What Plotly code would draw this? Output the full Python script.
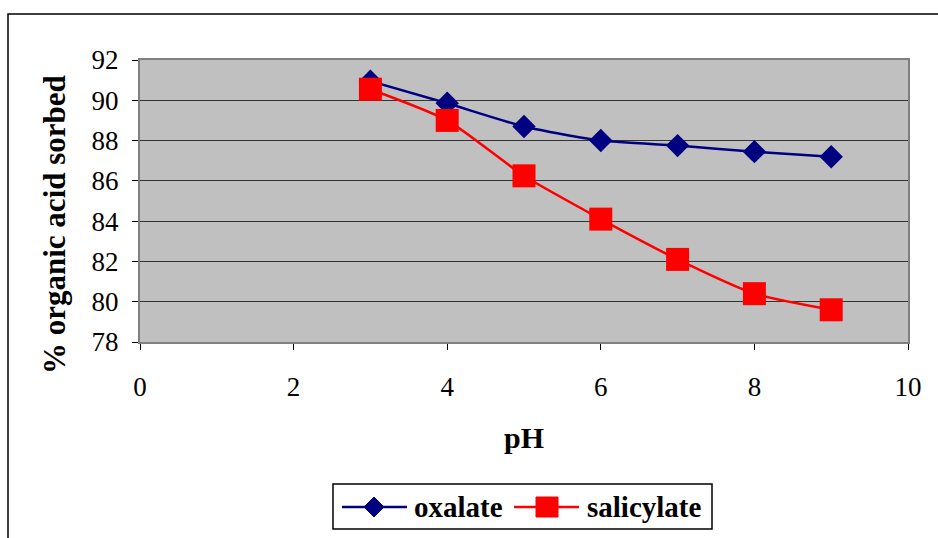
import plotly.graph_objects as go

ph = [3, 4, 5, 6, 7, 8, 9]
oxalate = [90.95, 89.85, 88.7, 88.0, 87.75, 87.45, 87.2]
salicylate = [90.55, 89.0, 86.25, 84.1, 82.1, 80.4, 79.6]

x_ticks = [0, 2, 4, 6, 8, 10]
y_ticks = [78, 80, 82, 84, 86, 88, 90, 92]

serif = "Liberation Serif, Times New Roman, serif"
NAVY = "#000080"
RED = "#FF0000"

# plot area in pixels: left 140, right 908, top 60, bottom 342
L, R, T, B = 140, 908, 60, 342


def px(xp):
    return (xp - L) / (R - L)


def py(yp):
    return (B - yp) / (B - T)


fig = go.Figure()
fig.add_trace(go.Scatter(
    x=ph, y=oxalate, name="oxalate", mode="lines+markers",
    line=dict(color=NAVY, width=2.5, shape="spline", smoothing=0.6),
    marker=dict(symbol="diamond", size=18, color=NAVY),
))
fig.add_trace(go.Scatter(
    x=ph, y=salicylate, name="salicylate", mode="lines+markers",
    line=dict(color=RED, width=2.5, shape="spline", smoothing=0.6),
    marker=dict(symbol="square", size=23, color=RED),
))

# boxed legend below the axes
leg_y = py(507)
shapes = [
    dict(type="rect", xref="paper", yref="paper",
         x0=px(8), x1=1.2, y0=-1.0, y1=py(14),
         line=dict(color="black", width=1.5), fillcolor="rgba(0,0,0,0)",
         layer="below"),
    dict(type="rect", xref="paper", yref="paper",
         x0=px(333), x1=px(712), y0=py(529), y1=py(484),
         line=dict(color="black", width=1.5), fillcolor="white"),
    dict(type="line", xref="paper", yref="paper",
         x0=px(342), x1=px(407), y0=leg_y, y1=leg_y,
         line=dict(color=NAVY, width=2.5)),
    dict(type="path", xref="paper", yref="paper",
         xsizemode="pixel", ysizemode="pixel",
         xanchor=px(374), yanchor=leg_y,
         path="M -10 0 L 0 10 L 10 0 L 0 -10 Z",
         line=dict(color=NAVY, width=1), fillcolor=NAVY),
    dict(type="line", xref="paper", yref="paper",
         x0=px(514), x1=px(579), y0=leg_y, y1=leg_y,
         line=dict(color=RED, width=2.5)),
    dict(type="path", xref="paper", yref="paper",
         xsizemode="pixel", ysizemode="pixel",
         xanchor=px(547), yanchor=leg_y,
         path="M -11 -10 L 11 -10 L 11 10 L -11 10 Z",
         line=dict(color=RED, width=1), fillcolor=RED),
]

annotations = [
    dict(text="oxalate", xref="paper", yref="paper", x=px(412), y=leg_y,
         xanchor="left", yanchor="middle", showarrow=False,
         font=dict(family=serif, size=29, color="black", weight="bold")),
    dict(text="salicylate", xref="paper", yref="paper", x=px(585), y=leg_y,
         xanchor="left", yanchor="middle", showarrow=False,
         font=dict(family=serif, size=29, color="black", weight="bold")),
    # y-axis title
    dict(text="% organic acid sorbed", xref="paper", yref="paper",
         x=px(54), y=py(225), xanchor="center", yanchor="middle",
         textangle=-90, showarrow=False,
         font=dict(family=serif, size=31, color="black", weight="bold")),
]

fig.update_layout(
    width=938, height=538,
    margin=dict(l=L, r=938 - R, t=T, b=538 - B),
    paper_bgcolor="white",
    plot_bgcolor="#C0C0C0",
    font=dict(family=serif, size=27, color="black"),
    showlegend=False,
    xaxis=dict(
        range=[0, 10], tickvals=x_ticks, ticks="outside", ticklen=6,
        tickcolor="black", showgrid=False, zeroline=False,
        showline=True, linecolor="#808080", linewidth=2, mirror=True,
        tickfont=dict(family=serif, size=27), ticklabelstandoff=14,
        automargin=False,
        title=dict(text="pH", font=dict(family=serif, size=30, weight="bold"), standoff=26),
    ),
    yaxis=dict(
        range=[78, 92], tickvals=y_ticks, ticks="outside", ticklen=6,
        tickcolor="black", showgrid=True, gridcolor="#333333", gridwidth=1,
        zeroline=False, automargin=False,
        showline=True, linecolor="#808080", linewidth=2, mirror=True,
        tickfont=dict(family=serif, size=27), ticklabelstandoff=8,
    ),
    shapes=shapes,
    annotations=annotations,
)

fig.write_html("out.html")
